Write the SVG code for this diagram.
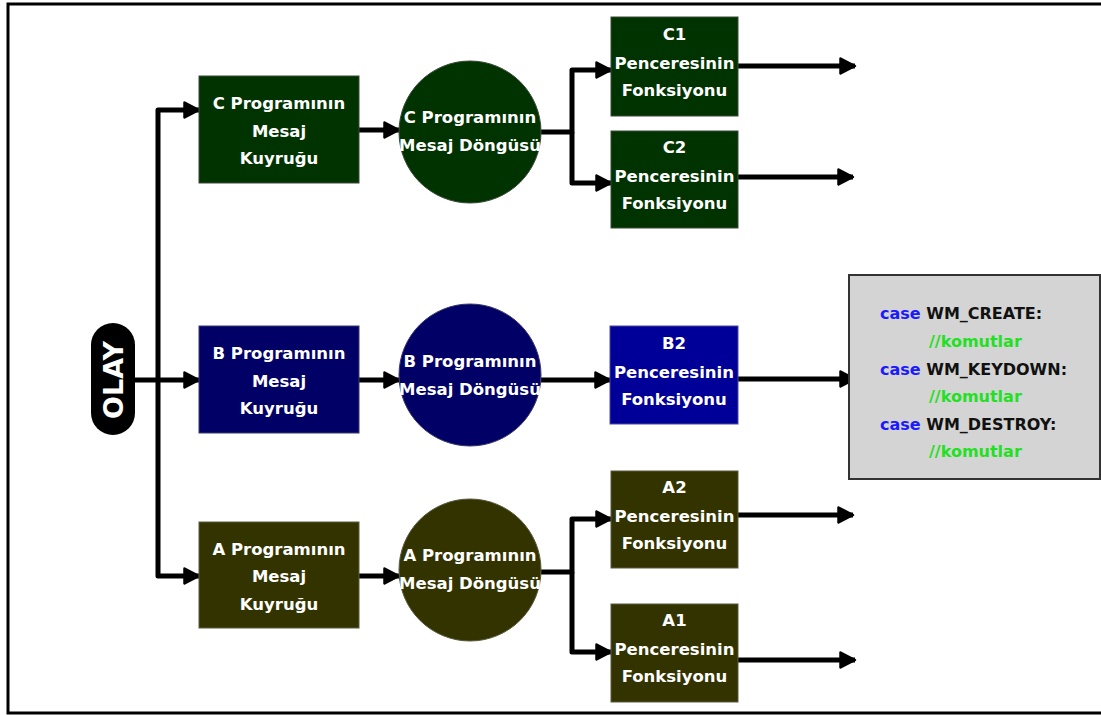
<svg xmlns="http://www.w3.org/2000/svg" width="1101" height="715" viewBox="0 0 1101 715">
  <style>
    .lbl { font-family: "DejaVu Sans", Verdana, sans-serif; font-weight: bold; font-size: 16.5px; fill: #ffffff; text-anchor: middle; }
    .code { font-family: "DejaVu Sans", Verdana, sans-serif; font-weight: bold; font-size: 16px; }
    .kw { fill: #1a1aff; }
    .id { fill: #111111; }
    .cm { fill: #22e022; }
    .wire { fill: none; stroke: #000000; stroke-width: 5; stroke-linejoin: round; marker-end: url(#head); }
    .green { fill: #003300; stroke: #3a4a3a; stroke-width: 1; }
    .navy { fill: #000066; stroke: #3a3a6a; stroke-width: 1; }
    .blue { fill: #000099; stroke: #4a4a9a; stroke-width: 1; }
    .olive { fill: #333300; stroke: #5a5a40; stroke-width: 1; }
  </style>
  <defs>
    <marker id="head" markerUnits="userSpaceOnUse" markerWidth="22" markerHeight="22" refX="16" refY="9" orient="auto">
      <path d="M1.5,1.5 L16,9 L1.5,16.5 Z" fill="#000000" stroke="#000000" stroke-width="2.5" stroke-linejoin="round"/>
    </marker>
  </defs>

  <rect width="1101" height="715" fill="#ffffff"/>
  <!-- page frame, open on the right -->
  <path d="M1104,4 H8 V713 H1104" fill="none" stroke="#000000" stroke-width="3"/>

  <!-- connectors -->
  <g id="connectors">
    <path class="wire" d="M135,380 H199"/>
    <path class="wire" d="M158,380 V110 H199"/>
    <path class="wire" d="M158,380 V576 H199"/>
    <path class="wire" d="M359,130 H399"/>
    <path class="wire" d="M359,380 H399"/>
    <path class="wire" d="M359,576 H399"/>
    <path class="wire" d="M541,132 H572 V70 H611"/>
    <path class="wire" d="M572,132 V183 H611"/>
    <path class="wire" d="M541,380 H610"/>
    <path class="wire" d="M541,572 H572 V519 H611"/>
    <path class="wire" d="M572,572 V652 H611"/>
    <path class="wire" d="M738,66 H855"/>
    <path class="wire" d="M738,177 H853"/>
    <path class="wire" d="M738,379 H855"/>
    <path class="wire" d="M738,515 H853"/>
    <path class="wire" d="M738,660 H855"/>
  </g>

  <!-- event source -->
  <g id="olay">
    <rect x="91" y="323" width="44" height="112" rx="22" ry="22" fill="#000000"/>
    <text class="lbl" transform="translate(113,380) rotate(-90)" y="10" style="font-size:27px">OLAY</text>
  </g>

  <!-- C program -->
  <g id="c-queue">
    <rect class="green" x="199" y="76" width="160" height="107"/>
    <text class="lbl" x="279" y="109">C Programının</text>
    <text class="lbl" x="279" y="137">Mesaj</text>
    <text class="lbl" x="279" y="164">Kuyruğu</text>
  </g>
  <g id="c-loop">
    <circle class="green" cx="470" cy="132" r="71" stroke="none"/>
    <text class="lbl" x="470" y="123">C Programının</text>
    <text class="lbl" x="470" y="151">Mesaj Döngüsü</text>
  </g>
  <g id="c1-proc">
    <rect class="green" x="611" y="17" width="127" height="99"/>
    <text class="lbl" x="674.5" y="40">C1</text>
    <text class="lbl" x="674.5" y="69">Penceresinin</text>
    <text class="lbl" x="674.5" y="96">Fonksiyonu</text>
  </g>
  <g id="c2-proc">
    <rect class="green" x="611" y="131" width="127" height="97"/>
    <text class="lbl" x="674.5" y="153">C2</text>
    <text class="lbl" x="674.5" y="182">Penceresinin</text>
    <text class="lbl" x="674.5" y="209">Fonksiyonu</text>
  </g>

  <!-- B program -->
  <g id="b-queue">
    <rect class="navy" x="199" y="326" width="160" height="107"/>
    <text class="lbl" x="279" y="359">B Programının</text>
    <text class="lbl" x="279" y="387">Mesaj</text>
    <text class="lbl" x="279" y="414">Kuyruğu</text>
  </g>
  <g id="b-loop">
    <circle class="navy" cx="470" cy="375" r="71" stroke="none"/>
    <text class="lbl" x="470" y="367">B Programının</text>
    <text class="lbl" x="470" y="395">Mesaj Döngüsü</text>
  </g>
  <g id="b2-proc">
    <rect class="blue" x="610" y="326" width="128" height="98"/>
    <text class="lbl" x="674" y="349">B2</text>
    <text class="lbl" x="674" y="378">Penceresinin</text>
    <text class="lbl" x="674" y="405">Fonksiyonu</text>
  </g>

  <!-- A program -->
  <g id="a-queue">
    <rect class="olive" x="199" y="522" width="160" height="106"/>
    <text class="lbl" x="279" y="555">A Programının</text>
    <text class="lbl" x="279" y="582">Mesaj</text>
    <text class="lbl" x="279" y="610">Kuyruğu</text>
  </g>
  <g id="a-loop">
    <circle class="olive" cx="470" cy="570" r="71" stroke="none"/>
    <text class="lbl" x="470" y="561">A Programının</text>
    <text class="lbl" x="470" y="589">Mesaj Döngüsü</text>
  </g>
  <g id="a2-proc">
    <rect class="olive" x="611" y="471" width="127" height="97"/>
    <text class="lbl" x="674.5" y="493">A2</text>
    <text class="lbl" x="674.5" y="522">Penceresinin</text>
    <text class="lbl" x="674.5" y="549">Fonksiyonu</text>
  </g>
  <g id="a1-proc">
    <rect class="olive" x="611" y="604" width="127" height="98"/>
    <text class="lbl" x="674.5" y="626">A1</text>
    <text class="lbl" x="674.5" y="655">Penceresinin</text>
    <text class="lbl" x="674.5" y="682">Fonksiyonu</text>
  </g>

  <!-- window procedure body -->
  <g id="wndproc">
    <rect x="849" y="275" width="251" height="204" fill="#d4d4d4" stroke="#333333" stroke-width="2"/>
    <text class="code" x="880" y="319"><tspan class="kw">case</tspan><tspan class="id"> WM_CREATE:</tspan></text>
    <text class="code cm" x="929" y="347">//komutlar</text>
    <text class="code" x="880" y="375"><tspan class="kw">case</tspan><tspan class="id"> WM_KEYDOWN:</tspan></text>
    <text class="code cm" x="929" y="402">//komutlar</text>
    <text class="code" x="880" y="430"><tspan class="kw">case</tspan><tspan class="id"> WM_DESTROY:</tspan></text>
    <text class="code cm" x="929" y="457">//komutlar</text>
  </g>
</svg>
